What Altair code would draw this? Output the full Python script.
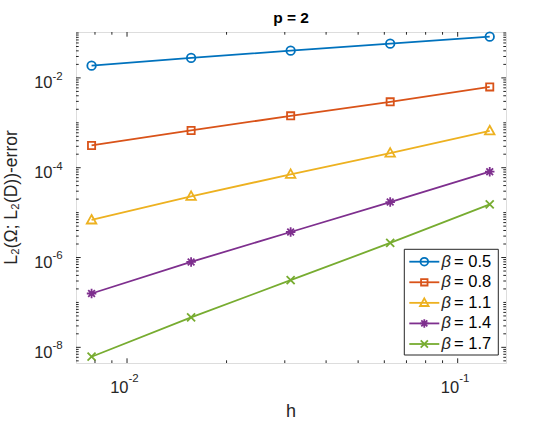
import altair as alt
import pandas as pd

# ---------------- data ----------------
h_values = [1/128, 1/64, 1/32, 1/16, 1/8]
beta_names = ["0.5", "0.8", "1.1", "1.4", "1.7"]
err_b05 = [0.01875, 0.0278, 0.0404, 0.0578, 0.0828]
err_b08 = [3.13e-4, 6.75e-4, 1.43e-3, 2.93e-3, 6.3e-3]
err_b11 = [6.85e-6, 2.3e-5, 7.1e-5, 2.11e-4, 6.64e-4]
err_b14 = [1.58e-7, 7.98e-7, 3.7e-6, 1.72e-5, 8.15e-5]
err_b17 = [6.18e-9, 4.64e-8, 3.13e-7, 2.11e-6, 1.53e-5]
series = [err_b05, err_b08, err_b11, err_b14, err_b17]

x_label_vals = [0.01, 0.1]
x_label_exp = ["-2", "-1"]
y_label_vals = [1e-8, 1e-6, 1e-4, 1e-2]
y_label_exp = ["-8", "-6", "-4", "-2"]

title_text = "p = 2"
x_title = "h"
y_title = "L\u2082(\u03a9; L\u2082(D))-error"

# ---------------- style ----------------
colors = ["#0072BD", "#D95319", "#EDB120", "#7E2F8E", "#77AC30"]
shapes = [
    "M-0.85,0A0.85,0.85 0 1,0 0.85,0A0.85,0.85 0 1,0 -0.85,0Z",
    "M-0.72,-0.72L0.72,-0.72L0.72,0.72L-0.72,0.72Z",
    "M0,-1L0.95,0.7L-0.95,0.7Z",
    "M-0.95,0L0.95,0M0,-0.95L0,0.95M-0.67,-0.67L0.67,0.67M-0.67,0.67L0.67,-0.67",
    "M-0.8,-0.8L0.8,0.8M-0.8,0.8L0.8,-0.8",
]
W, H = 430, 331
FONT = "Liberation Sans"
AX = "#262626"
LW = 1.8
X_DOMAIN = [0.00701, 0.140]
Y_DOMAIN = [4.48e-9, 0.1052]

xs = alt.Scale(type="log", domain=X_DOMAIN, nice=False)
ys = alt.Scale(type="log", domain=Y_DOMAIN, nice=False)
cs = alt.Scale(domain=beta_names, range=colors)
ss = alt.Scale(domain=beta_names, range=shapes)

rows = []
for name, vals in zip(beta_names, series):
    for h, e in zip(h_values, vals):
        rows.append({"h": h, "err": e, "beta": name})
df = pd.DataFrame(rows)

X = alt.X("h:Q", scale=xs, axis=None)
Y = alt.Y("err:Q", scale=ys, axis=None)
C = alt.Color("beta:N", scale=cs, legend=None)
S = alt.Shape("beta:N", scale=ss, legend=None)

lines = alt.Chart(df).mark_line(strokeWidth=LW).encode(x=X, y=Y, color=C, detail="beta:N")
points = alt.Chart(df).mark_point(filled=False, strokeWidth=LW, size=100, opacity=1).encode(
    x=X, y=Y, color=C, shape=S)

# ---------------- ticks (inside, MATLAB box style) ----------------
def decade_ticks(lo, hi, e_lo, e_hi):
    out = []
    for e in range(e_lo, e_hi + 1):
        for m in range(1, 10):
            v = m * 10.0 ** e
            if lo <= v <= hi:
                out.append(v)
    return out

y_all = decade_ticks(Y_DOMAIN[0], Y_DOMAIN[1], -9, -1)
y_minor = [v for v in y_all if not any(abs(v / m - 1) < 1e-6 for m in y_label_vals)]
x_all = decade_ticks(X_DOMAIN[0], X_DOMAIN[1], -3, -1)
x_minor = [v for v in x_all if not any(abs(v / m - 1) < 1e-6 for m in x_label_vals)]

MAJ, MIN = 4.7, 2.7

def yticks(vals, x0, x1):
    return alt.Chart(pd.DataFrame({"v": vals})).mark_rule(color=AX, strokeWidth=1).encode(
        y=alt.Y("v:Q", scale=ys, axis=None), x=alt.value(x0), x2=alt.value(x1))

def xticks(vals, y0, y1):
    return alt.Chart(pd.DataFrame({"v": vals})).mark_rule(color=AX, strokeWidth=1).encode(
        x=alt.X("v:Q", scale=xs, axis=None), y=alt.value(y0), y2=alt.value(y1))

tick_layers = [
    yticks(y_minor, 0, MIN), yticks(y_label_vals, 0, MAJ),
    yticks(y_minor, W, W - MIN), yticks(y_label_vals, W, W - MAJ),
    xticks(x_minor, H, H - MIN), xticks(x_label_vals, H, H - MAJ),
    xticks(x_minor, 0, MIN), xticks(x_label_vals, 0, MAJ),
]

# ---------------- tick labels 10^k ----------------
ylab_df = pd.DataFrame({"v": y_label_vals, "e": y_label_exp, "b": ["10"] * len(y_label_vals)})
ylab_base = alt.Chart(ylab_df).mark_text(align="right", baseline="alphabetic", dy=10.5,
                                         fontSize=16.5, font=FONT, color=AX).encode(
    y=alt.Y("v:Q", scale=ys, axis=None), x=alt.value(-23.5), text="b:N")
ylab_exp = alt.Chart(ylab_df).mark_text(align="left", baseline="alphabetic", dy=1.8,
                                        fontSize=11.5, font=FONT, color=AX).encode(
    y=alt.Y("v:Q", scale=ys, axis=None), x=alt.value(-23.5), text="e:N")

xlab_df = pd.DataFrame({"v": x_label_vals, "e": x_label_exp, "b": ["10"] * len(x_label_vals)})
xlab_base = alt.Chart(xlab_df).mark_text(align="right", baseline="alphabetic", dx=1.5,
                                         fontSize=16.5, font=FONT, color=AX).encode(
    x=alt.X("v:Q", scale=xs, axis=None), y=alt.value(H + 30.3), text="b:N")
xlab_exp = alt.Chart(xlab_df).mark_text(align="left", baseline="alphabetic", dx=1.5,
                                        fontSize=11.5, font=FONT, color=AX).encode(
    x=alt.X("v:Q", scale=xs, axis=None), y=alt.value(H + 18.7), text="e:N")

# ---------------- titles ----------------
xtitle = alt.Chart(pd.DataFrame({"t": [x_title]})).mark_text(
    align="center", baseline="alphabetic", fontSize=18, font=FONT, color=AX).encode(
    x=alt.value(W / 2), y=alt.value(H + 54), text="t:N")
ytitle = alt.Chart(pd.DataFrame({"t": [y_title]})).mark_text(
    align="center", baseline="alphabetic", angle=270, fontSize=17.5, font=FONT, color=AX).encode(
    x=alt.value(-59.5), y=alt.value(H / 2), text="t:N")
ptitle = alt.Chart(pd.DataFrame({"t": [title_text]})).mark_text(
    align="center", baseline="alphabetic", fontSize=15.5, fontWeight="bold", font=FONT,
    color="black").encode(x=alt.value(W / 2), y=alt.value(-9.5), text="t:N")

main = alt.layer(lines, points, *tick_layers, ylab_base, ylab_exp, xlab_base, xlab_exp,
                 xtitle, ytitle, ptitle)

# ---------------- legend ----------------
leg_df = pd.DataFrame({"beta": beta_names, "eq": ["= " + b for b in beta_names],
                       "sym": ["\u03b2"] * len(beta_names)})
LY = alt.Y("beta:N", scale=alt.Scale(type="point", domain=beta_names, range=[229.7, 312], padding=0),
           axis=None)
leg_box = alt.Chart(pd.DataFrame({"a": [0]})).mark_rect(fill="white", stroke=AX, strokeWidth=1).encode(
    x=alt.value(328.3), x2=alt.value(422.3), y=alt.value(217.3), y2=alt.value(323))
leg_line = alt.Chart(leg_df).mark_rule(strokeWidth=LW).encode(
    y=LY, x=alt.value(333.3), x2=alt.value(363.3), color=C)
leg_pt = alt.Chart(leg_df).mark_point(filled=False, strokeWidth=LW, size=81, opacity=1).encode(
    y=LY, x=alt.value(348.3), color=C, shape=S)
leg_beta = alt.Chart(leg_df).mark_text(align="left", baseline="middle", fontSize=16.5, font=FONT,
                                       fontStyle="italic", color=AX).encode(
    y=LY, x=alt.value(365.5), text="sym:N")
leg_eq = alt.Chart(leg_df).mark_text(align="left", baseline="middle", fontSize=16.5, font=FONT,
                                     color="black").encode(
    y=LY, x=alt.value(378), text="eq:N")
legend = alt.layer(leg_box, leg_line, leg_pt, leg_beta, leg_eq)

chart = alt.layer(main, legend).resolve_scale(y="independent").properties(
    width=W, height=H,
    autosize=alt.AutoSizeParams(type="none"),
    padding={"left": 76, "top": 32, "right": 53, "bottom": 59},
).configure_view(stroke=AX, strokeWidth=1).configure(background="white")

chart.save("out.html", embed_options={"renderer": "svg", "actions": False})
